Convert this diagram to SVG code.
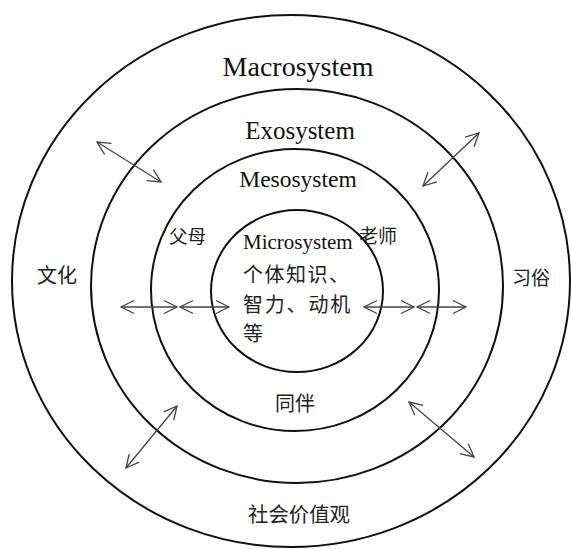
<svg xmlns="http://www.w3.org/2000/svg" width="571" height="549" viewBox="0 0 571 549">
<style>
.ring{fill:none;stroke:#111;stroke-width:2}
.en{font-family:"Liberation Serif","Times New Roman",serif;fill:#111}
.zh{font-family:"Noto Sans CJK SC","Noto Sans",sans-serif;fill:#222}
.arr{stroke:#444;stroke-width:1.3;fill:none;marker-start:url(#ah);marker-end:url(#ah)}
</style>
<defs>
<marker id="ah" markerUnits="userSpaceOnUse" viewBox="-15 -9 17 18" refX="0" refY="0" markerWidth="17" markerHeight="18" orient="auto-start-reverse">
<path d="M-13,-6.5 L0,0 L-13,6.5" fill="none" stroke="#444" stroke-width="1.3"/>
</marker>
</defs>
<rect width="571" height="549" fill="#fff"/>
<g id="macrosystem">
<ellipse class="ring" cx="291" cy="281" rx="279" ry="266"/>
<text class="en" x="298" y="76" font-size="28" text-anchor="middle">Macrosystem</text>
<text class="zh" x="37" y="283" font-size="20">文化</text>
<text class="zh" x="512" y="285" font-size="19">习俗</text>
<text class="zh" x="248" y="522" font-size="20.4">社会价值观</text>
</g>
<g id="exosystem">
<ellipse class="ring" cx="297" cy="286" rx="206" ry="197"/>
<text class="en" x="300" y="139" font-size="25" text-anchor="middle">Exosystem</text>
</g>
<g id="mesosystem">
<ellipse class="ring" cx="295" cy="290" rx="144" ry="141"/>
<text class="en" x="298" y="187" font-size="23.5" text-anchor="middle">Mesosystem</text>
<text class="zh" x="169" y="243" font-size="18.5">父母</text>
<text class="zh" x="359" y="243" font-size="19">老师</text>
<text class="zh" x="275" y="411" font-size="20">同伴</text>
</g>
<g id="microsystem">
<ellipse class="ring" cx="297" cy="291" rx="86" ry="81"/>
<text class="en" x="243" y="249" font-size="21">Microsystem</text>
<text class="zh" x="243" y="282" font-size="20" letter-spacing="1.5">个体知识、</text>
<text class="zh" x="243" y="311.5" font-size="20" letter-spacing="1.8">智力、动机</text>
<text class="zh" x="243" y="341" font-size="20">等</text>
</g>
<g id="connectors">
<line class="arr" x1="121" y1="307" x2="177" y2="307"/>
<line class="arr" x1="180" y1="307" x2="229" y2="307"/>
<line class="arr" x1="364" y1="307" x2="414" y2="307"/>
<line class="arr" x1="417" y1="307" x2="466" y2="307"/>
<line class="arr" x1="97" y1="142" x2="161" y2="182"/>
<line class="arr" x1="479" y1="133" x2="423" y2="186"/>
<line class="arr" x1="177" y1="406" x2="126" y2="468"/>
<line class="arr" x1="409" y1="402" x2="474" y2="457"/>
</g>
</svg>
